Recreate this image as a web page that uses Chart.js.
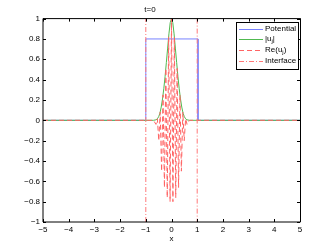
<!DOCTYPE html>
<html>
<head>
<meta charset="utf-8">
<script src="https://cdn.jsdelivr.net/npm/chart.js@4/dist/chart.umd.min.js"></script>
<style>
  html, body { margin: 0; padding: 0; background: #fff; }
  #wrap { width: 332px; height: 250px; }
</style>
</head>
<body>
<div id="wrap"><canvas id="c" width="332" height="250"></canvas></div>
<script>
// values
const xTicks = [-5, -4, -3, -2, -1, 0, 1, 2, 3, 4, 5];
const yTicks = [-1, -0.8, -0.6, -0.4, -0.2, 0, 0.2, 0.4, 0.6, 0.8, 1];

const potentialX = [-5, -1, -1, 1.03, 1.03, 5];
const potentialY = [0, 0, 0.8, 0.8, 0, 0];

const absX = [-5, -0.8, -0.7, -0.6, -0.55, -0.5, -0.45, -0.4, -0.35, -0.3, -0.25, -0.2, -0.15, -0.1, -0.05,
  0, 0.05, 0.1, 0.15, 0.2, 0.25, 0.3, 0.35, 0.4, 0.45, 0.5, 0.55, 0.6, 0.7, 0.8, 5];
const absY = [0, 0, 0, 0.005, 0.015, 0.035, 0.07, 0.13, 0.21, 0.31, 0.43, 0.57, 0.71, 0.85, 0.96,
  1.0, 0.96, 0.85, 0.71, 0.57, 0.43, 0.31, 0.21, 0.13, 0.07, 0.035, 0.015, 0.005, 0, 0, 0];

const reX = [-5, -0.7, -0.605, -0.55, -0.495, -0.44, -0.385, -0.33, -0.275, -0.22, -0.165, -0.11, -0.055,
  0, 0.055, 0.11, 0.165, 0.22, 0.275, 0.33, 0.385, 0.44, 0.495, 0.55, 0.605, 0.7, 5];
const reY = [0, 0, -0.04, 0.015, -0.2, 0.08, -0.5, 0.25, -0.66, 0.51, -0.76, 0.82, -0.8,
  1.0, -0.8, 0.82, -0.76, 0.51, -0.66, 0.25, -0.5, 0.08, -0.2, 0.015, -0.04, 0, 0];

const interfaceX = [-1, -1, 0, 1, 1];
const interfaceY = [-1, 1, null, 1, -1];

const labels = ['Potential', '|u_j|', 'Re(u_j)', 'Interface'];

const pts = (xs, ys) => xs.map((x, i) => ({ x: x, y: ys[i] }));
const fmt = v => {
  const r = Math.round(v * 10) / 10;
  return r < 0 ? '\u2212' + String(-r) : String(r);
};
const FONT = 'Liberation Sans, Arial, Helvetica, sans-serif';

// matlab style box, inward ticks and legend
const matlabAxes = {
  id: 'matlabAxes',
  afterDraw(chart) {
    const ctx = chart.ctx;
    const a = chart.chartArea;
    const xs = chart.scales.x, ys = chart.scales.y;
    ctx.save();
    ctx.strokeStyle = '#000';
    ctx.lineWidth = 1;
    ctx.beginPath();
    ctx.moveTo(a.left, a.top); ctx.lineTo(a.right + 0.5, a.top);
    ctx.moveTo(a.left, a.bottom); ctx.lineTo(a.right + 0.5, a.bottom);
    ctx.moveTo(a.left, a.top); ctx.lineTo(a.left, a.bottom);
    ctx.moveTo(a.right + 0.5, a.top); ctx.lineTo(a.right + 0.5, a.bottom);
    const tl = 3;
    xTicks.forEach(v => {
      const px = Math.round(xs.getPixelForValue(v)) + 0.5;
      ctx.moveTo(px, a.bottom); ctx.lineTo(px, a.bottom - tl);
      ctx.moveTo(px, a.top); ctx.lineTo(px, a.top + tl);
    });
    yTicks.forEach(v => {
      const py = Math.round(ys.getPixelForValue(v)) + 0.5;
      ctx.moveTo(a.left, py); ctx.lineTo(a.left + tl, py);
      ctx.moveTo(a.right, py); ctx.lineTo(a.right - tl, py);
    });
    ctx.stroke();

    // legend
    const bx = 236.5, by = 22.5, bw = 62, bh = 47;
    ctx.fillStyle = '#fff';
    ctx.fillRect(bx, by, bw, bh);
    ctx.strokeStyle = '#000';
    ctx.strokeRect(bx, by, bw, bh);
    const rows = [28.5, 39, 49.5, 60.5];
    ctx.textBaseline = 'middle';
    chart.data.datasets.forEach((ds, i) => {
      const y = Math.round(rows[i]) + 0.5;
      ctx.beginPath();
      ctx.strokeStyle = ds.borderColor;
      ctx.lineWidth = ds.borderWidth;
      ctx.setLineDash(ds.borderDash || []);
      ctx.moveTo(239, y); ctx.lineTo(263, y);
      ctx.stroke();
      ctx.setLineDash([]);
      ctx.fillStyle = '#000';
      ctx.font = '8px ' + FONT;
      let x = 265;
      const parts = labels[i].split('_');
      ctx.fillText(parts[0], x, rows[i]);
      if (parts.length > 1) {
        x += ctx.measureText(parts[0]).width;
        ctx.font = '6px ' + FONT;
        ctx.fillText(parts[1][0], x, rows[i] + 2.5);
        x += ctx.measureText(parts[1][0]).width;
        ctx.font = '8px ' + FONT;
        ctx.fillText(parts[1].slice(1), x, rows[i]);
      }
    });
    ctx.restore();
  }
};

new Chart(document.getElementById('c'), {
  type: 'line',
  data: {
    datasets: [
      { label: labels[0], data: pts(potentialX, potentialY), borderColor: 'rgb(120,130,255)', borderWidth: 1, order: 4 },
      { label: labels[1], data: pts(absX, absY), borderColor: 'rgb(80,185,80)', borderWidth: 1, order: 3 },
      { label: labels[2], data: pts(reX, reY), borderColor: 'rgb(255,100,100)', borderWidth: 1, borderDash: [5, 3], order: 2 },
      { label: labels[3], data: pts(interfaceX, interfaceY), borderColor: 'rgb(255,120,120)', borderWidth: 1, borderDash: [5, 2, 1, 2], order: 1 }
    ]
  },
  options: {
    responsive: false,
    animation: false,
    spanGaps: false,
    elements: { point: { radius: 0 }, line: { tension: 0 } },
    layout: { padding: { top: 0, right: 32, bottom: 0, left: 0 } },
    plugins: {
      legend: { display: false },
      tooltip: { enabled: false },
      title: {
        display: true, text: 't=0', color: '#000',
        font: { family: FONT, size: 8, weight: 'normal' },
        padding: { top: 5, bottom: 4 }
      }
    },
    scales: {
      x: {
        type: 'linear', min: -5, max: 5,
        afterBuildTicks: s => { s.ticks = xTicks.map(v => ({ value: v })); },
        afterFit: s => { s.height = 28; },
        grid: { display: false, drawTicks: false },
        border: { display: false },
        ticks: { color: '#000', font: { family: FONT, size: 8 }, padding: 3, maxRotation: 0, autoSkip: false, callback: fmt },
        title: { display: true, text: 'x', color: '#000', font: { family: FONT, size: 8 }, padding: { top: 0, bottom: 6 } }
      },
      y: {
        type: 'linear', min: -1, max: 1,
        afterBuildTicks: s => { s.ticks = yTicks.map(v => ({ value: v })); },
        afterFit: s => { s.width = 43; },
        grid: { display: false, drawTicks: false },
        border: { display: false },
        ticks: { color: '#000', font: { family: FONT, size: 8 }, padding: 3, autoSkip: false, callback: fmt }
      }
    }
  },
  plugins: [matlabAxes]
});
</script>
</body>
</html>
